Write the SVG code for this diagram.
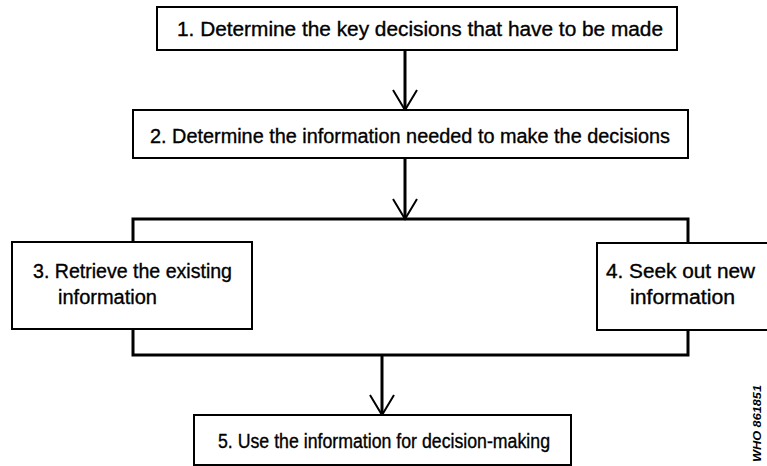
<svg xmlns="http://www.w3.org/2000/svg" width="767" height="466" viewBox="0 0 767 466">
<defs>
<style>
.box{fill:#fff;stroke:#000;stroke-width:2}
.t{font-family:"Liberation Sans",Arial,sans-serif;font-size:20px;fill:#000;stroke:#000;stroke-width:0.35}
.ln{fill:none;stroke:#000;stroke-width:3}
.ah{fill:none;stroke:#000;stroke-width:2}
</style>
</defs>
<rect width="767" height="466" fill="#fff"/>
<g id="connectors">
<line class="ln" x1="405" y1="50" x2="405" y2="110"/>
<polyline class="ah" points="393,90 405,110 417,90"/>
<line class="ln" x1="405" y1="158" x2="405" y2="219"/>
<polyline class="ah" points="393,199 405,219 417,199"/>
<rect class="ln" x="133" y="219" width="555" height="136"/>
<line class="ln" x1="382" y1="355" x2="382" y2="415"/>
<polyline class="ah" points="370,395 382,415 394,395"/>
</g>
<g id="n1"><rect class="box" x="157" y="7" width="520" height="43"/>
<text class="t" x="177" y="36" textLength="486" lengthAdjust="spacingAndGlyphs">1. Determine the key decisions that have to be made</text></g>
<g id="n2"><rect class="box" x="133" y="110" width="555" height="48"/>
<text class="t" x="150" y="143" textLength="520" lengthAdjust="spacingAndGlyphs">2. Determine the information needed to make the decisions</text></g>
<g id="n3"><rect class="box" x="12" y="242" width="240" height="87"/>
<text class="t" x="33" y="278" textLength="199" lengthAdjust="spacingAndGlyphs">3. Retrieve the existing</text>
<text class="t" x="58" y="304" textLength="99" lengthAdjust="spacingAndGlyphs">information</text></g>
<g id="n4"><rect class="box" x="597" y="243" width="180" height="87"/>
<text class="t" x="606" y="278" textLength="149" lengthAdjust="spacingAndGlyphs">4. Seek out new</text>
<text class="t" x="630" y="304" textLength="105" lengthAdjust="spacingAndGlyphs">information</text></g>
<g id="n5"><rect class="box" x="194" y="415" width="377" height="50"/>
<text class="t" x="218" y="448" textLength="332" lengthAdjust="spacingAndGlyphs">5. Use the information for decision-making</text></g>
<text x="761" y="462" transform="rotate(-90 761 462)" font-family="Liberation Sans,Arial,sans-serif" font-size="11" font-weight="bold" font-style="italic" textLength="77" lengthAdjust="spacingAndGlyphs">WHO 861851</text>
</svg>
